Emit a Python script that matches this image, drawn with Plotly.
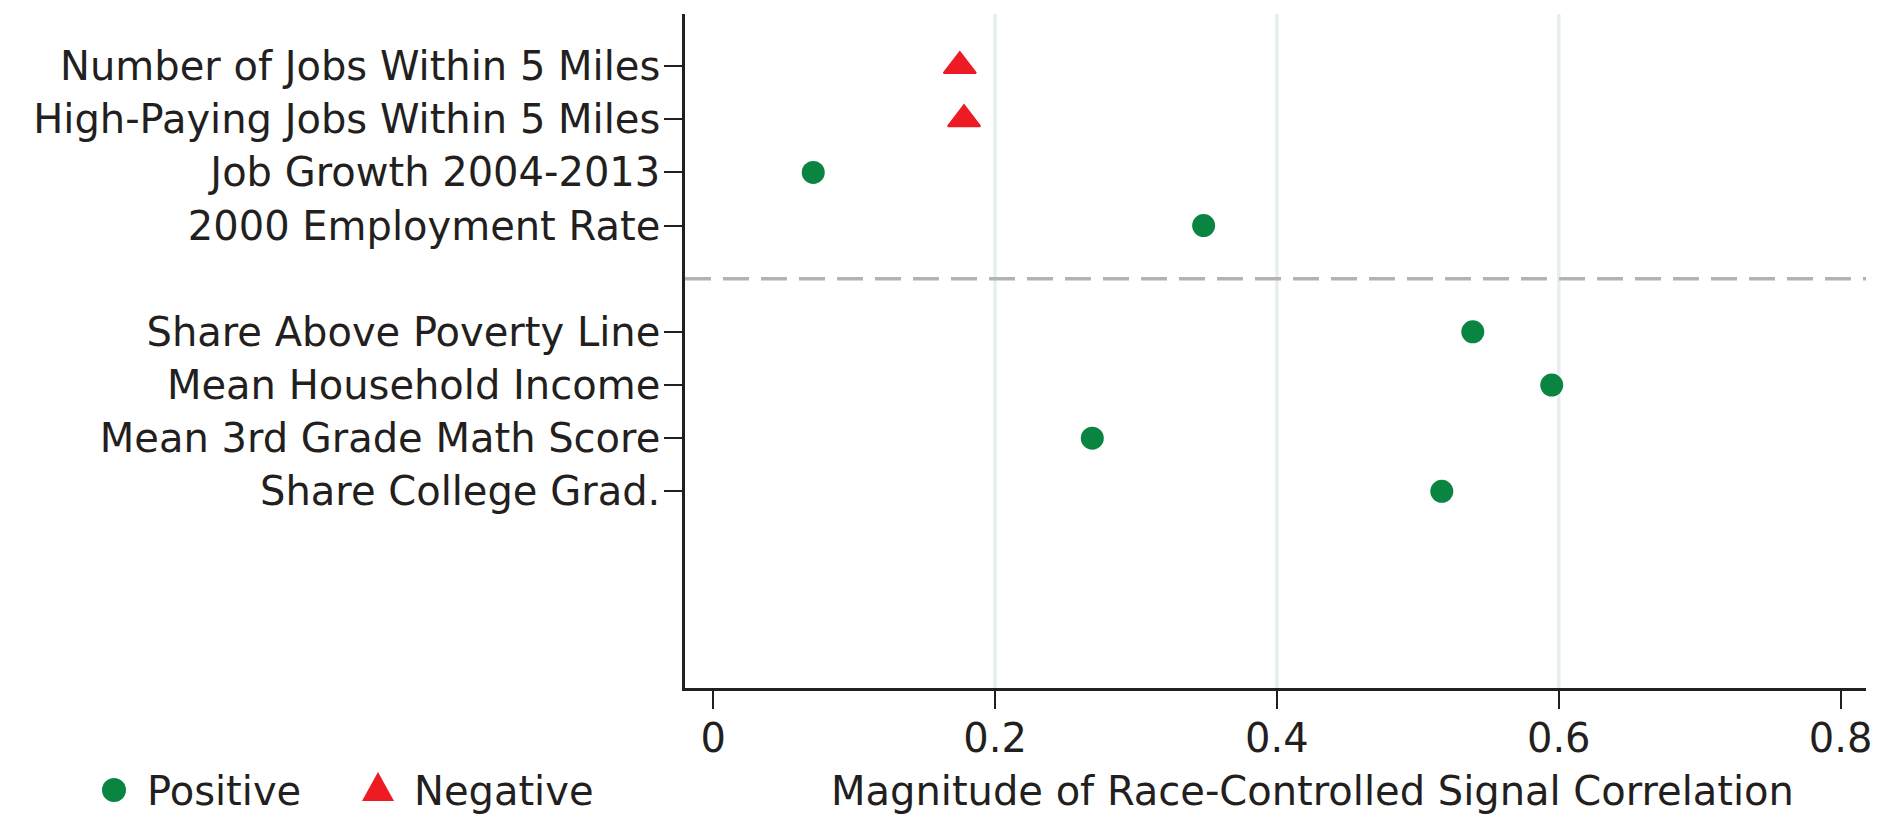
import plotly.graph_objects as go

# ---- data ----
group_labor = ["Number of Jobs Within 5 Miles", "High-Paying Jobs Within 5 Miles",
               "Job Growth 2004-2013", "2000 Employment Rate"]
group_ses = ["Share Above Poverty Line", "Mean Household Income",
             "Mean 3rd Grade Math Score", "Share College Grad."]
values_labor = [0.175, 0.178, 0.071, 0.348]
values_ses = [0.539, 0.595, 0.269, 0.517]
sign_labor = ["Negative", "Negative", "Positive", "Positive"]
sign_ses = ["Positive", "Positive", "Positive", "Positive"]
x_ticks = [0, 0.2, 0.4, 0.6, 0.8]
x_tick_labels = ["0", "0.2", "0.4", "0.6", "0.8"]
grid_vals = [0.2, 0.4, 0.6]
legend_names = ["Positive", "Negative"]

categories = group_labor + group_ses
values = values_labor + values_ses
signs = sign_labor + sign_ses
# row positions: one empty row separates the two groups
positions = list(range(1, len(group_labor) + 1)) + \
    list(range(len(group_labor) + 2, len(group_labor) + len(group_ses) + 2))
separator = len(group_labor) + 1

FONT = "DejaVu Sans"
FS = 40
TXT = "#231f20"
GREEN = "#0a8441"
RED = "#ed1c24"

# plot-area geometry in pixels (for converting legend pixel placements to paper units)
W, H = 1888, 819
ML, MR, MT, MB = 685, 22, 14, 131
PW, PH = W - ML - MR, H - MT - MB


def px_x(p):
    return (p - ML) / PW


def px_y(p):
    return (H - MB - p) / PH


fig = go.Figure()
styles = {"Positive": dict(symbol="circle", color=GREEN, size=23, lw=0),
          "Negative": dict(symbol="triangle-up", color=RED, size=28, lw=2)}
for s in legend_names:
    xs = [v for v, g in zip(values, signs) if g == s]
    ys = [p for p, g in zip(positions, signs) if g == s]
    st = styles[s]
    fig.add_trace(go.Scatter(
        x=xs, y=ys, mode="markers", name=s, showlegend=False,
        marker=dict(symbol=st["symbol"], color=st["color"], size=st["size"],
                    line=dict(width=st["lw"], color=st["color"])),
    ))

shapes = []
for g in grid_vals:
    shapes.append(dict(type="line", xref="x", yref="paper", x0=g, x1=g, y0=0, y1=1,
                       line=dict(color="#e6eeef", width=3.5), layer="below"))
shapes.append(dict(type="line", xref="paper", yref="y", x0=0, x1=1,
                   y0=separator, y1=separator,
                   line=dict(color="#b3b3b3", width=3.5, dash="26px,12px")))

# legend keys (drawn manually so the keys keep the plotted marker size)
shapes.append(dict(type="circle", xref="paper", yref="paper",
                   xsizemode="pixel", ysizemode="pixel",
                   xanchor=px_x(114), yanchor=px_y(790),
                   x0=-12, x1=12, y0=-12, y1=12,
                   fillcolor=GREEN, line=dict(width=0)))
shapes.append(dict(type="path", xref="paper", yref="paper",
                   xsizemode="pixel", ysizemode="pixel",
                   xanchor=px_x(378), yanchor=px_y(787),
                   path="M -16,-14 L 16,-14 L 0,15 Z",
                   fillcolor=RED, line=dict(width=0)))

annotations = [
    dict(text="Magnitude of Race-Controlled Signal Correlation",
         xref="paper", yref="paper", x=px_x(1312), y=px_y(791),
         xanchor="center", yanchor="middle", showarrow=False, borderpad=0,
         font=dict(size=FS, color=TXT)),
    dict(text=legend_names[0], xref="paper", yref="paper", x=px_x(146), y=px_y(791),
         xanchor="left", yanchor="middle", showarrow=False, borderpad=0,
         font=dict(size=FS, color=TXT)),
    dict(text=legend_names[1], xref="paper", yref="paper", x=px_x(413), y=px_y(791),
         xanchor="left", yanchor="middle", showarrow=False, borderpad=0,
         font=dict(size=FS, color=TXT)),
]

fig.update_layout(
    width=W, height=H,
    margin=dict(l=ML, r=MR, t=MT, b=MB, autoexpand=False),
    paper_bgcolor="white", plot_bgcolor="white",
    font=dict(family=FONT, size=FS, color=TXT),
    shapes=shapes,
    annotations=annotations,
    showlegend=False,
    xaxis=dict(range=[-0.02, 0.818], tickvals=x_ticks, ticktext=x_tick_labels,
               showgrid=False, zeroline=False, showline=True, linecolor="#231f20",
               linewidth=3, ticks="outside", ticklen=18, tickwidth=2,
               tickcolor="#231f20", ticklabelstandoff=-5,
               tickfont=dict(size=FS, color=TXT)),
    yaxis=dict(range=[12.7, 0.02], tickvals=positions, ticktext=categories,
               showgrid=False, zeroline=False, showline=True, linecolor="#231f20",
               linewidth=2.5, ticks="outside", ticklen=18, tickwidth=2,
               tickcolor="#231f20", ticklabelstandoff=-4,
               tickfont=dict(size=FS, color=TXT)),
)

fig.write_html("out.html")
